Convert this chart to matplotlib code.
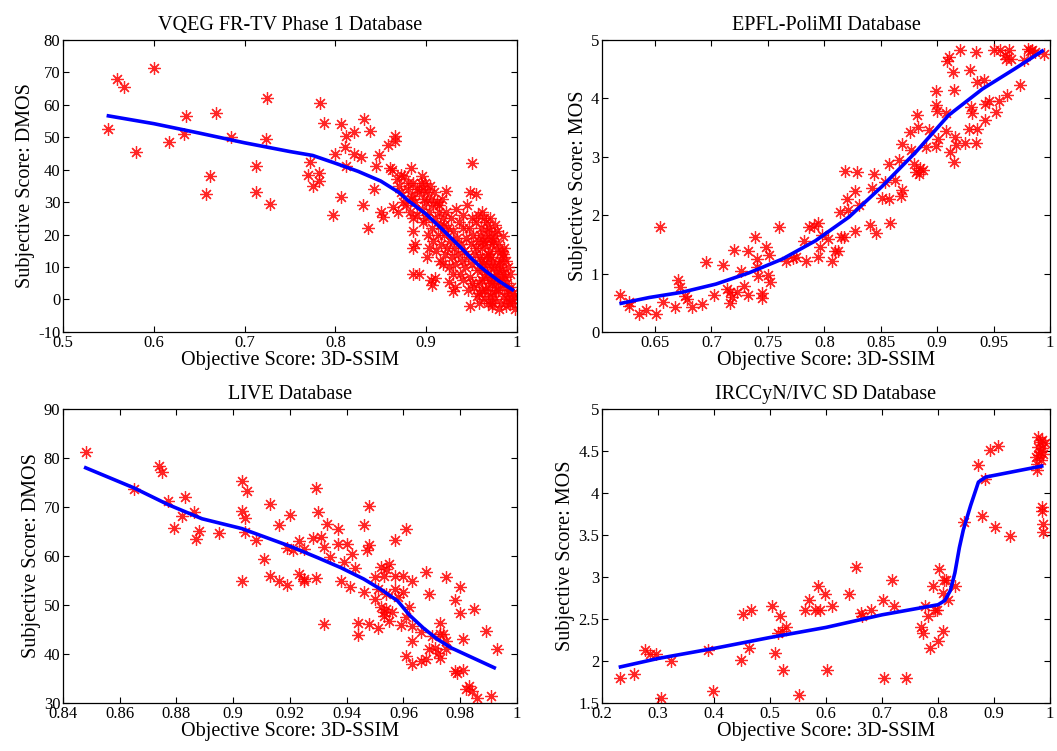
import matplotlib
matplotlib.use("Agg")
import numpy as np
from matplotlib import pyplot as plt
from matplotlib.ticker import FuncFormatter

plt.rcParams["font.family"] = ["Liberation Serif", "DejaVu Serif"]

# ---- VQEG FR-TV Phase 1 ----
vqeg_x = [0.55, 0.56, 0.567, 0.58, 0.60, 0.617, 0.633, 0.635, 0.658, 0.662, 0.668, 0.685,
          0.713, 0.713, 0.725, 0.724, 0.728, 0.772, 0.77, 0.775, 0.783, 0.782, 0.782, 0.788,
          0.797, 0.80, 0.806, 0.806, 0.811, 0.812, 0.812, 0.82, 0.82, 0.828, 0.83, 0.832,
          0.836, 0.838, 0.842, 0.845, 0.848, 0.85, 0.852, 0.858, 0.86, 0.862, 0.864, 0.866,
          0.866, 0.868, 0.869, 0.872, 0.88, 0.883, 0.883, 0.885, 0.885, 0.886, 0.888, 0.885,
          0.892, 0.895, 0.9, 0.901, 0.903, 0.905, 0.906, 0.91, 0.914, 0.915, 0.92, 0.922,
          0.925, 0.93, 0.932, 0.95, 0.948, 0.955, 0.948, 0.958, 0.98, 0.985, 0.985, 0.998,
          0.995,
          0.870, 0.872, 0.875, 0.876, 0.878, 0.880, 0.882, 0.884, 0.886, 0.888, 0.890, 0.890,
          0.892, 0.894, 0.895, 0.896, 0.897, 0.898, 0.899, 0.900, 0.901, 0.902, 0.903, 0.904,
          0.905, 0.906, 0.907, 0.908, 0.909, 0.910, 0.911, 0.912, 0.913, 0.914, 0.915, 0.916,
          0.917, 0.918, 0.919, 0.920, 0.921, 0.922, 0.923, 0.924, 0.925, 0.926, 0.927, 0.928,
          0.929, 0.930, 0.931, 0.932, 0.933, 0.934, 0.935, 0.936, 0.937, 0.938, 0.939, 0.940,
          0.941, 0.942, 0.943, 0.944, 0.945, 0.946, 0.947, 0.948, 0.949, 0.950, 0.951, 0.952,
          0.953, 0.954, 0.955, 0.956, 0.957, 0.958, 0.959, 0.960, 0.961, 0.962, 0.963, 0.964,
          0.965, 0.966, 0.967, 0.968, 0.969, 0.970, 0.971, 0.972, 0.973, 0.974, 0.975, 0.976,
          0.977, 0.978, 0.979, 0.980, 0.981, 0.982, 0.983, 0.984, 0.985, 0.986, 0.987, 0.988,
          0.989, 0.990, 0.991, 0.992, 0.993, 0.994, 0.996, 0.957, 0.962, 0.966, 0.970, 0.958,
          0.964, 0.968, 0.972, 0.975, 0.962, 0.966, 0.970, 0.974, 0.978, 0.955, 0.960, 0.950,
          0.946, 0.940, 0.965, 0.969, 0.973, 0.977, 0.981, 0.985, 0.989, 0.961, 0.964, 0.967,
          0.971, 0.975, 0.979, 0.983, 0.959, 0.963, 0.967, 0.971, 0.976, 0.980, 0.984, 0.988,
          0.992, 0.997, 0.956, 0.968, 0.972, 0.976, 0.986, 0.990]
vqeg_y = [52.5, 68, 65.5, 45.5, 71.5, 48.5, 51, 56.5, 32.5, 38, 57.5, 50,
          41, 33, 62, 49.5, 29.5, 42.5, 38.5, 35, 60.5, 39, 36.5, 54.5,
          26, 45, 54, 31.5, 47, 50.5, 41, 51.5, 45, 44, 29, 55.5,
          22, 52, 34, 41, 44.5, 27, 25.5, 47.5, 40.5, 40, 28.5, 50.5,
          49, 37, 27, 38.5, 36, 40.5, 31, 21, 25, 16, 17, 8,
          8, 38, 30, 13, 16, 6, 4.5, 6.5, 29, 12, 23, 33.5,
          5.5, 2.5, 4, 42, 33, 32.5, -2, -1, -3, 19.5, 13, -3,
          -1,
          35, 33, 30, 38, 29, 34, 27, 32, 36, 30, 34, 26,
          33, 36, 28, 24, 34, 31, 36, 25, 33, 20, 27, 35,
          31, 22, 18, 29, 33, 25, 15, 30, 20, 27, 23, 17,
          31, 25, 11, 20, 14, 27, 16, 22, 10, 18, 25, 13,
          8, 21, 16, 11, 28, 19, 14, 24, 8, 17, 12, 22,
          26, 15, 10, 19, 29, 13, 22, 7, 17, 25, 11, 20,
          4, 14, 24, 9, 18, 2, 13, 22, 6, 16, 11, 25,
          3, 19, 8, 14, 22, 1, 10, 17, 5, 12, 20, 0,
          8, 15, 3, 11, 6, -1, 9, 4, 14, 1, 7, -2,
          5, 10, 2, -1, 4, 0, 2, 26, 27, 24, 25, 5,
          0, -1, -2, 7, 9, 13, 15, 18, 21, 16, 12, 5,
          3, 6, 17, 6, -1, 3, 12, 8, 0, 3, 7, 11,
          13, 10, 17, 15, 20, 18, 21, 19, 23, 9, 6, 12,
          8, 1, 1, 4, 2, 5, 16, 3]
vqeg_fit_x = [0.55, 0.60, 0.65, 0.70, 0.75, 0.775, 0.80, 0.825, 0.85, 0.87, 0.88, 0.90,
              0.92, 0.94, 0.95, 0.96, 0.97, 0.98, 0.995]
vqeg_fit_y = [56.6, 54.2, 51.3, 48.3, 45.6, 44.4, 42.0, 39.5, 36.5, 33.0, 30.5, 26.3,
              21.0, 15.5, 12.6, 10.0, 7.8, 5.7, 3.0]

# ---- EPFL-PoliMI ----
epfl_x = [0.619, 0.627, 0.627, 0.636, 0.642, 0.651, 0.654, 0.657, 0.668, 0.670, 0.672, 0.677,
          0.678, 0.683, 0.692, 0.695, 0.702, 0.710, 0.714, 0.716, 0.716, 0.718, 0.720, 0.723,
          0.726, 0.729, 0.732, 0.732, 0.739, 0.740, 0.740, 0.741, 0.745, 0.745, 0.748, 0.751,
          0.750, 0.752, 0.760, 0.766, 0.772, 0.775, 0.782, 0.784, 0.786, 0.791, 0.794, 0.794,
          0.796, 0.798, 0.803, 0.807, 0.809, 0.812, 0.814, 0.815, 0.817, 0.818, 0.820, 0.821,
          0.827, 0.827, 0.829, 0.831, 0.840, 0.842, 0.844, 0.846, 0.851, 0.854, 0.857, 0.857,
          0.858, 0.863, 0.866, 0.868, 0.869, 0.869, 0.876, 0.877, 0.879, 0.881, 0.882, 0.883,
          0.884, 0.885, 0.887, 0.890, 0.893, 0.899, 0.899, 0.900, 0.899, 0.901, 0.908, 0.908,
          0.909, 0.910, 0.911, 0.914, 0.915, 0.915, 0.916, 0.917, 0.920, 0.925, 0.929, 0.930,
          0.931, 0.928, 0.934, 0.935, 0.934, 0.935, 0.941, 0.942, 0.942, 0.946, 0.950, 0.952,
          0.955, 0.956, 0.960, 0.961, 0.962, 0.964, 0.965, 0.973, 0.977, 0.980, 0.982, 0.984,
          0.987, 0.995]
epfl_y = [0.64, 0.52, 0.44, 0.31, 0.37, 0.31, 1.80, 0.52, 0.43, 0.89, 0.77, 0.62,
          0.57, 0.42, 0.47, 1.19, 0.64, 1.15, 0.73, 0.49, 0.68, 0.59, 1.40, 0.69,
          1.04, 0.79, 1.38, 0.63, 1.63, 1.25, 1.12, 0.96, 0.67, 0.58, 1.46, 1.32,
          0.98, 0.85, 1.79, 1.21, 1.26, 1.29, 1.55, 1.22, 1.79, 1.81, 1.86, 1.29,
          1.46, 1.66, 1.60, 1.21, 1.39, 1.39, 2.06, 1.63, 1.62, 2.75, 2.27, 2.09,
          1.73, 2.42, 2.74, 2.17, 1.83, 2.46, 2.71, 1.69, 2.29, 2.57, 2.88, 2.27,
          1.86, 2.60, 2.94, 2.32, 3.21, 2.43, 3.42, 3.11, 2.88, 2.74, 3.71, 3.51,
          2.71, 2.80, 2.77, 3.17, 3.45, 4.12, 3.88, 3.79, 3.18, 3.31, 3.75, 3.44,
          4.64, 4.70, 3.08, 4.45, 4.14, 2.91, 3.34, 3.20, 4.82, 3.24, 4.48, 3.85,
          3.75, 3.48, 4.79, 4.28, 3.24, 3.48, 4.31, 3.91, 3.63, 3.95, 4.82, 3.77,
          3.96, 4.83, 4.75, 4.68, 4.05, 4.82, 4.68, 4.23, 4.65, 4.85, 4.81, 4.82,
          4.80, 4.76]
epfl_fit_x = [0.620, 0.645, 0.674, 0.704, 0.733, 0.763, 0.792, 0.822, 0.851, 0.881, 0.910,
              0.940, 0.969, 0.993]
epfl_fit_y = [0.49, 0.59, 0.68, 0.82, 1.01, 1.25, 1.56, 1.97, 2.49, 3.08, 3.71, 4.16, 4.51, 4.81]

# ---- LIVE ----
live_x = [0.848, 0.865, 0.874, 0.875, 0.877, 0.882, 0.883, 0.879, 0.886, 0.887, 0.888, 0.895,
          0.903, 0.903, 0.903, 0.904, 0.905, 0.904, 0.908, 0.911, 0.913, 0.913, 0.916, 0.916,
          0.919, 0.919, 0.920, 0.921, 0.923, 0.923, 0.925, 0.925, 0.925, 0.928, 0.929, 0.929,
          0.930, 0.931, 0.932, 0.932, 0.933, 0.934, 0.937, 0.937, 0.938, 0.939, 0.940, 0.941,
          0.942, 0.943, 0.944, 0.944, 0.946, 0.946, 0.947, 0.948, 0.948, 0.948, 0.950, 0.950,
          0.951, 0.951, 0.952, 0.952, 0.953, 0.953, 0.953, 0.954, 0.954, 0.954, 0.955, 0.955,
          0.956, 0.957, 0.957, 0.957, 0.958, 0.959, 0.960, 0.960, 0.961, 0.961, 0.961, 0.962,
          0.963, 0.963, 0.963, 0.963, 0.966, 0.966, 0.968, 0.968, 0.969, 0.969, 0.970, 0.971,
          0.972, 0.973, 0.973, 0.973, 0.974, 0.975, 0.975, 0.975, 0.978, 0.978, 0.979, 0.980,
          0.980, 0.981, 0.981, 0.982, 0.983, 0.984, 0.985, 0.986, 0.989, 0.991, 0.993]
live_y = [81.3, 73.6, 78.4, 77.2, 71.2, 68.1, 72.1, 65.7, 69.0, 63.5, 65.1, 64.7,
          75.3, 54.8, 69.2, 67.8, 73.3, 65.0, 63.3, 59.4, 70.7, 56.0, 66.4, 54.8,
          54.1, 61.7, 68.3, 61.3, 56.3, 63.0, 55.3, 54.8, 61.5, 63.7, 73.9, 55.5,
          68.9, 63.9, 61.8, 46.2, 66.5, 59.8, 65.6, 62.5, 54.8, 58.7, 62.5, 53.7,
          60.5, 57.5, 46.3, 43.9, 52.7, 66.4, 61.3, 62.2, 70.2, 46.1, 51.2, 55.7,
          53.3, 45.4, 57.7, 49.5, 48.5, 56.0, 47.8, 52.2, 57.4, 49.2, 46.8, 58.4,
          48.5, 56.0, 63.3, 53.3, 51.6, 45.9, 52.6, 56.0, 39.5, 47.5, 65.6, 49.5,
          55.0, 45.7, 38.0, 42.7, 44.5, 38.6, 39.0, 56.7, 52.2, 41.1, 43.7, 41.3,
          40.3, 44.0, 46.4, 39.2, 44.0, 41.0, 55.7, 42.7, 51.1, 36.5, 36.2, 53.7,
          48.3, 36.7, 43.0, 32.8, 33.4, 32.4, 49.2, 31.0, 44.7, 31.5, 41.1]
live_fit_x = [0.848, 0.865, 0.877, 0.889, 0.903, 0.920, 0.930, 0.938, 0.946, 0.952, 0.958,
              0.962, 0.967, 0.972, 0.977, 0.983, 0.992]
live_fit_y = [78.0, 73.9, 70.5, 67.6, 65.6, 62.0, 59.6, 57.6, 55.3, 53.2, 50.8,
              48.0, 45.3, 43.0, 41.2, 39.6, 37.2]

# ---- IRCCyN/IVC SD ----
ivc_x = [0.233, 0.258, 0.276, 0.285, 0.296, 0.306, 0.323, 0.389, 0.398, 0.448, 0.451, 0.463,
         0.466, 0.504, 0.509, 0.518, 0.523, 0.515, 0.522, 0.528, 0.552, 0.563, 0.570, 0.580,
         0.586, 0.589, 0.598, 0.602, 0.610, 0.641, 0.653, 0.662, 0.665, 0.680, 0.701, 0.703,
         0.717, 0.721, 0.742, 0.769, 0.773, 0.776, 0.782, 0.785, 0.791, 0.794, 0.798, 0.800,
         0.801, 0.808, 0.808, 0.811, 0.814, 0.818, 0.831, 0.846, 0.872, 0.879, 0.884, 0.893,
         0.902, 0.907, 0.929, 0.976, 0.979, 0.982, 0.978, 0.985, 0.980, 0.974, 0.988, 0.984,
         0.991, 0.977, 0.985, 0.982, 0.985, 0.986, 0.988, 0.988]
ivc_y = [1.80, 1.85, 2.13, 2.08, 2.08, 1.56, 2.00, 2.13, 1.64, 2.01, 2.56, 2.16,
         2.61, 2.65, 2.09, 2.53, 1.89, 2.33, 2.36, 2.41, 1.60, 2.61, 2.73, 2.61,
         2.89, 2.61, 2.80, 1.89, 2.65, 2.80, 3.12, 2.57, 2.53, 2.61, 2.73, 1.80,
         2.96, 2.65, 1.80, 2.41, 2.33, 2.65, 2.53, 2.16, 2.89, 2.61, 2.61, 2.24,
         3.09, 2.36, 2.81, 2.96, 2.96, 2.73, 2.89, 3.66, 4.33, 3.73, 4.17, 4.51,
         3.60, 4.56, 3.49, 4.27, 4.67, 4.61, 4.55, 4.53, 4.45, 4.43, 4.47, 4.39,
         4.59, 4.35, 4.63, 4.49, 3.83, 3.79, 3.63, 3.53]
ivc_fit_x = [0.233, 0.30, 0.40, 0.50, 0.60, 0.70, 0.80, 0.812, 0.822, 0.83, 0.838, 0.845,
             0.858, 0.872, 0.885, 0.985]
ivc_fit_y = [1.93, 2.03, 2.15, 2.28, 2.40, 2.55, 2.67, 2.72, 2.84, 3.05, 3.35, 3.56,
             3.85, 4.13, 4.19, 4.32]

panels = [
    ("VQEG FR-TV Phase 1 Database", "Subjective Score: DMOS", vqeg_x, vqeg_y, vqeg_fit_x, vqeg_fit_y,
     (0.5, 1.0), (-10, 80), np.arange(0.5, 1.001, 0.1), np.arange(-10, 81, 10)),
    ("EPFL-PoliMI Database", "Subjective Score: MOS", epfl_x, epfl_y, epfl_fit_x, epfl_fit_y,
     (0.603, 1.0), (0, 5), np.arange(0.65, 1.001, 0.05), np.arange(0, 5.01, 1)),
    ("LIVE Database", "Subjective Score: DMOS", live_x, live_y, live_fit_x, live_fit_y,
     (0.84, 1.0), (30, 90), np.arange(0.84, 1.001, 0.02), np.arange(30, 91, 10)),
    ("IRCCyN/IVC SD Database", "Subjective Score: MOS", ivc_x, ivc_y, ivc_fit_x, ivc_fit_y,
     (0.2, 1.0), (1.5, 5), np.arange(0.2, 1.001, 0.1), np.arange(1.5, 5.01, 0.5)),
]

rects = [
    [0.0596, 0.558, 0.4295, 0.3888],
    [0.5695, 0.558, 0.424, 0.3888],
    [0.0596, 0.0639, 0.4295, 0.3915],
    [0.5695, 0.0639, 0.424, 0.3915],
]

fmt = FuncFormatter(lambda v, pos: f"{round(v, 4):g}")

fig = plt.figure(figsize=(10.57, 7.51), dpi=100)
for rect, (title, ylab, xs, ys, fx, fy, xlim, ylim, xt, yt) in zip(rects, panels):
    ax = fig.add_axes(rect)
    ax.plot(xs, ys, linestyle="none", marker=(8, 2, 0), markersize=9,
            markeredgewidth=0.9, color="#ff0000", alpha=0.85)
    ax.plot(fx, fy, color="#0000ff", lw=2.6, solid_joinstyle="round")
    ax.set_xlim(*xlim)
    ax.set_ylim(*ylim)
    ax.set_xticks(xt)
    ax.set_yticks(yt)
    ax.xaxis.set_major_formatter(fmt)
    ax.yaxis.set_major_formatter(fmt)
    ax.tick_params(direction="in", top=True, right=True, length=4, width=0.8,
                   labelsize=12, pad=2)
    for s in ax.spines.values():
        s.set_linewidth(0.9)
    ax.set_title(title, fontsize=14.5, pad=7)
    ax.set_xlabel("Objective Score: 3D-SSIM", fontsize=14.5, labelpad=0)
    ax.set_ylabel(ylab, fontsize=14.5, labelpad=2)

fig.savefig("out.png", dpi=100)
